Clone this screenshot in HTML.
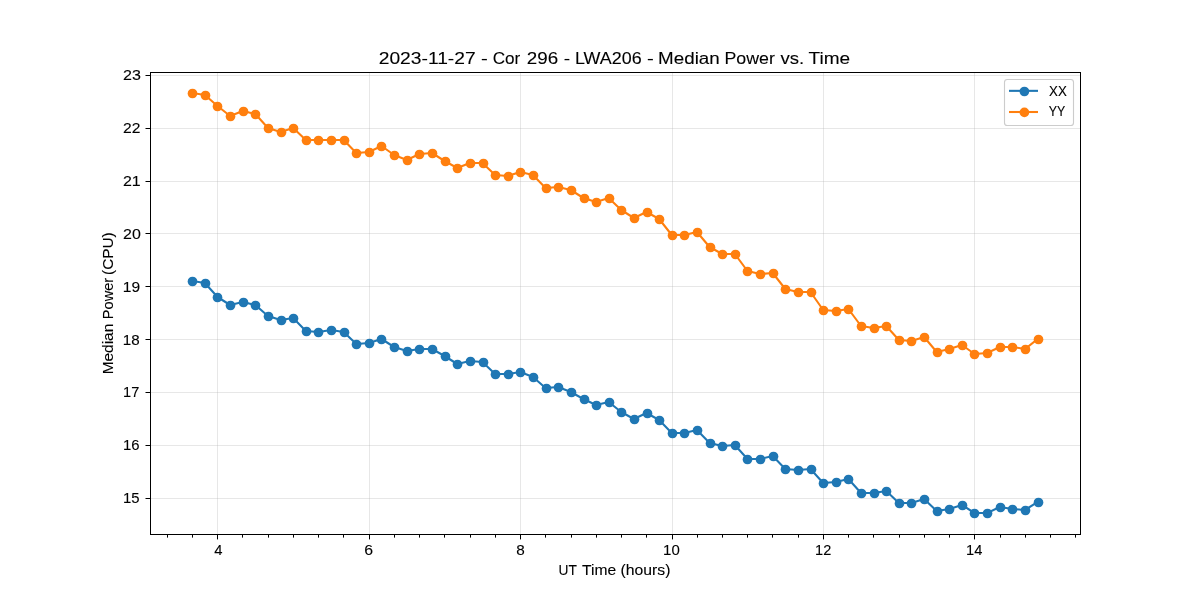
<!DOCTYPE html>
<html><head><meta charset="utf-8"><title>Median Power vs. Time</title>
<style>
html,body{margin:0;padding:0;background:#fff;}
body{width:1200px;height:600px;overflow:hidden;}
svg{display:block;will-change:transform;}
text{font-family:"Liberation Sans",sans-serif;fill:#000;stroke:#000;stroke-width:0.1px;}
</style></head><body>
<svg width="1200" height="600" viewBox="0 0 1200 600">
<rect x="0" y="0" width="1200" height="600" fill="#ffffff"/>

<g stroke="#b0b0b0" stroke-opacity="0.3" stroke-width="1" shape-rendering="crispEdges">
<line x1="217.5" y1="73" x2="217.5" y2="534"/>
<line x1="369.5" y1="73" x2="369.5" y2="534"/>
<line x1="520.5" y1="73" x2="520.5" y2="534"/>
<line x1="672.5" y1="73" x2="672.5" y2="534"/>
<line x1="823.5" y1="73" x2="823.5" y2="534"/>
<line x1="974.5" y1="73" x2="974.5" y2="534"/>
<line x1="151" y1="75.5" x2="1080" y2="75.5"/>
<line x1="151" y1="128.5" x2="1080" y2="128.5"/>
<line x1="151" y1="181.5" x2="1080" y2="181.5"/>
<line x1="151" y1="233.5" x2="1080" y2="233.5"/>
<line x1="151" y1="286.5" x2="1080" y2="286.5"/>
<line x1="151" y1="339.5" x2="1080" y2="339.5"/>
<line x1="151" y1="392.5" x2="1080" y2="392.5"/>
<line x1="151" y1="445.5" x2="1080" y2="445.5"/>
<line x1="151" y1="498.5" x2="1080" y2="498.5"/>
</g>
<polyline points="192.27,281.00 204.89,283.00 217.51,297.00 230.12,305.00 242.74,302.00 255.36,305.00 267.98,316.00 280.60,320.00 293.21,318.00 305.83,331.00 318.45,332.00 331.07,330.00 343.69,332.00 356.30,344.00 368.92,343.00 381.54,339.00 394.16,347.00 406.78,351.00 419.39,349.00 432.01,349.00 444.63,356.00 457.25,364.00 469.87,361.00 482.48,362.00 495.10,374.00 507.72,374.00 520.34,372.00 532.96,377.00 545.57,388.00 558.19,387.00 570.81,392.00 583.43,399.00 596.05,405.00 608.66,402.00 621.28,412.00 633.90,419.00 646.52,413.00 659.14,420.00 671.75,433.00 684.37,433.00 696.99,430.00 709.61,443.00 722.23,446.00 734.84,445.00 747.46,459.00 760.08,459.00 772.70,456.00 785.32,469.00 797.93,470.00 810.55,469.00 823.17,483.00 835.79,482.00 848.41,479.00 861.02,493.00 873.64,493.00 886.26,491.00 898.88,503.00 911.50,503.00 924.11,499.00 936.73,511.00 949.35,509.00 961.97,505.00 974.59,513.00 987.20,513.00 999.82,507.00 1012.44,509.00 1025.06,510.00 1037.68,502.00" fill="none" stroke="#1f77b4" stroke-width="2.08" stroke-linejoin="round" stroke-linecap="square"/>
<g fill="#1f77b4">
<circle cx="192.5" cy="281.5" r="4.85"/>
<circle cx="205.5" cy="283.5" r="4.85"/>
<circle cx="217.5" cy="297.5" r="4.85"/>
<circle cx="230.5" cy="305.5" r="4.85"/>
<circle cx="243.5" cy="302.5" r="4.85"/>
<circle cx="255.5" cy="305.5" r="4.85"/>
<circle cx="268.5" cy="316.5" r="4.85"/>
<circle cx="281.5" cy="320.5" r="4.85"/>
<circle cx="293.5" cy="318.5" r="4.85"/>
<circle cx="306.5" cy="331.5" r="4.85"/>
<circle cx="318.5" cy="332.5" r="4.85"/>
<circle cx="331.5" cy="330.5" r="4.85"/>
<circle cx="344.5" cy="332.5" r="4.85"/>
<circle cx="356.5" cy="344.5" r="4.85"/>
<circle cx="369.5" cy="343.5" r="4.85"/>
<circle cx="381.5" cy="339.5" r="4.85"/>
<circle cx="394.5" cy="347.5" r="4.85"/>
<circle cx="407.5" cy="351.5" r="4.85"/>
<circle cx="419.5" cy="349.5" r="4.85"/>
<circle cx="432.5" cy="349.5" r="4.85"/>
<circle cx="445.5" cy="356.5" r="4.85"/>
<circle cx="457.5" cy="364.5" r="4.85"/>
<circle cx="470.5" cy="361.5" r="4.85"/>
<circle cx="483.5" cy="362.5" r="4.85"/>
<circle cx="495.5" cy="374.5" r="4.85"/>
<circle cx="508.5" cy="374.5" r="4.85"/>
<circle cx="520.5" cy="372.5" r="4.85"/>
<circle cx="533.5" cy="377.5" r="4.85"/>
<circle cx="546.5" cy="388.5" r="4.85"/>
<circle cx="558.5" cy="387.5" r="4.85"/>
<circle cx="571.5" cy="392.5" r="4.85"/>
<circle cx="584.5" cy="399.5" r="4.85"/>
<circle cx="596.5" cy="405.5" r="4.85"/>
<circle cx="609.5" cy="402.5" r="4.85"/>
<circle cx="621.5" cy="412.5" r="4.85"/>
<circle cx="634.5" cy="419.5" r="4.85"/>
<circle cx="647.5" cy="413.5" r="4.85"/>
<circle cx="659.5" cy="420.5" r="4.85"/>
<circle cx="672.5" cy="433.5" r="4.85"/>
<circle cx="684.5" cy="433.5" r="4.85"/>
<circle cx="697.5" cy="430.5" r="4.85"/>
<circle cx="710.5" cy="443.5" r="4.85"/>
<circle cx="722.5" cy="446.5" r="4.85"/>
<circle cx="735.5" cy="445.5" r="4.85"/>
<circle cx="747.5" cy="459.5" r="4.85"/>
<circle cx="760.5" cy="459.5" r="4.85"/>
<circle cx="773.5" cy="456.5" r="4.85"/>
<circle cx="785.5" cy="469.5" r="4.85"/>
<circle cx="798.5" cy="470.5" r="4.85"/>
<circle cx="811.5" cy="469.5" r="4.85"/>
<circle cx="823.5" cy="483.5" r="4.85"/>
<circle cx="836.5" cy="482.5" r="4.85"/>
<circle cx="848.5" cy="479.5" r="4.85"/>
<circle cx="861.5" cy="493.5" r="4.85"/>
<circle cx="874.5" cy="493.5" r="4.85"/>
<circle cx="886.5" cy="491.5" r="4.85"/>
<circle cx="899.5" cy="503.5" r="4.85"/>
<circle cx="911.5" cy="503.5" r="4.85"/>
<circle cx="924.5" cy="499.5" r="4.85"/>
<circle cx="937.5" cy="511.5" r="4.85"/>
<circle cx="949.5" cy="509.5" r="4.85"/>
<circle cx="962.5" cy="505.5" r="4.85"/>
<circle cx="974.5" cy="513.5" r="4.85"/>
<circle cx="987.5" cy="513.5" r="4.85"/>
<circle cx="1000.5" cy="507.5" r="4.85"/>
<circle cx="1012.5" cy="509.5" r="4.85"/>
<circle cx="1025.5" cy="510.5" r="4.85"/>
<circle cx="1038.5" cy="502.5" r="4.85"/>
</g>
<polyline points="192.27,93.00 204.89,95.00 217.51,106.00 230.12,116.00 242.74,111.00 255.36,114.00 267.98,128.00 280.60,132.00 293.21,128.00 305.83,140.00 318.45,140.00 331.07,140.00 343.69,140.00 356.30,153.00 368.92,152.00 381.54,146.00 394.16,155.00 406.78,160.00 419.39,154.00 432.01,153.00 444.63,161.00 457.25,168.00 469.87,163.00 482.48,163.00 495.10,175.00 507.72,176.00 520.34,172.00 532.96,175.00 545.57,188.00 558.19,187.00 570.81,190.00 583.43,198.00 596.05,202.00 608.66,198.00 621.28,210.00 633.90,218.00 646.52,212.00 659.14,219.00 671.75,235.00 684.37,235.00 696.99,232.00 709.61,247.00 722.23,254.00 734.84,254.00 747.46,271.00 760.08,274.00 772.70,273.00 785.32,289.00 797.93,292.00 810.55,292.00 823.17,310.00 835.79,311.00 848.41,309.00 861.02,326.00 873.64,328.00 886.26,326.00 898.88,340.00 911.50,341.00 924.11,337.00 936.73,352.00 949.35,349.00 961.97,345.00 974.59,354.00 987.20,353.00 999.82,347.00 1012.44,347.00 1025.06,349.00 1037.68,339.00" fill="none" stroke="#ff7f0e" stroke-width="2.08" stroke-linejoin="round" stroke-linecap="square"/>
<g fill="#ff7f0e">
<circle cx="192.5" cy="93.5" r="4.85"/>
<circle cx="205.5" cy="95.5" r="4.85"/>
<circle cx="217.5" cy="106.5" r="4.85"/>
<circle cx="230.5" cy="116.5" r="4.85"/>
<circle cx="243.5" cy="111.5" r="4.85"/>
<circle cx="255.5" cy="114.5" r="4.85"/>
<circle cx="268.5" cy="128.5" r="4.85"/>
<circle cx="281.5" cy="132.5" r="4.85"/>
<circle cx="293.5" cy="128.5" r="4.85"/>
<circle cx="306.5" cy="140.5" r="4.85"/>
<circle cx="318.5" cy="140.5" r="4.85"/>
<circle cx="331.5" cy="140.5" r="4.85"/>
<circle cx="344.5" cy="140.5" r="4.85"/>
<circle cx="356.5" cy="153.5" r="4.85"/>
<circle cx="369.5" cy="152.5" r="4.85"/>
<circle cx="381.5" cy="146.5" r="4.85"/>
<circle cx="394.5" cy="155.5" r="4.85"/>
<circle cx="407.5" cy="160.5" r="4.85"/>
<circle cx="419.5" cy="154.5" r="4.85"/>
<circle cx="432.5" cy="153.5" r="4.85"/>
<circle cx="445.5" cy="161.5" r="4.85"/>
<circle cx="457.5" cy="168.5" r="4.85"/>
<circle cx="470.5" cy="163.5" r="4.85"/>
<circle cx="483.5" cy="163.5" r="4.85"/>
<circle cx="495.5" cy="175.5" r="4.85"/>
<circle cx="508.5" cy="176.5" r="4.85"/>
<circle cx="520.5" cy="172.5" r="4.85"/>
<circle cx="533.5" cy="175.5" r="4.85"/>
<circle cx="546.5" cy="188.5" r="4.85"/>
<circle cx="558.5" cy="187.5" r="4.85"/>
<circle cx="571.5" cy="190.5" r="4.85"/>
<circle cx="584.5" cy="198.5" r="4.85"/>
<circle cx="596.5" cy="202.5" r="4.85"/>
<circle cx="609.5" cy="198.5" r="4.85"/>
<circle cx="621.5" cy="210.5" r="4.85"/>
<circle cx="634.5" cy="218.5" r="4.85"/>
<circle cx="647.5" cy="212.5" r="4.85"/>
<circle cx="659.5" cy="219.5" r="4.85"/>
<circle cx="672.5" cy="235.5" r="4.85"/>
<circle cx="684.5" cy="235.5" r="4.85"/>
<circle cx="697.5" cy="232.5" r="4.85"/>
<circle cx="710.5" cy="247.5" r="4.85"/>
<circle cx="722.5" cy="254.5" r="4.85"/>
<circle cx="735.5" cy="254.5" r="4.85"/>
<circle cx="747.5" cy="271.5" r="4.85"/>
<circle cx="760.5" cy="274.5" r="4.85"/>
<circle cx="773.5" cy="273.5" r="4.85"/>
<circle cx="785.5" cy="289.5" r="4.85"/>
<circle cx="798.5" cy="292.5" r="4.85"/>
<circle cx="811.5" cy="292.5" r="4.85"/>
<circle cx="823.5" cy="310.5" r="4.85"/>
<circle cx="836.5" cy="311.5" r="4.85"/>
<circle cx="848.5" cy="309.5" r="4.85"/>
<circle cx="861.5" cy="326.5" r="4.85"/>
<circle cx="874.5" cy="328.5" r="4.85"/>
<circle cx="886.5" cy="326.5" r="4.85"/>
<circle cx="899.5" cy="340.5" r="4.85"/>
<circle cx="911.5" cy="341.5" r="4.85"/>
<circle cx="924.5" cy="337.5" r="4.85"/>
<circle cx="937.5" cy="352.5" r="4.85"/>
<circle cx="949.5" cy="349.5" r="4.85"/>
<circle cx="962.5" cy="345.5" r="4.85"/>
<circle cx="974.5" cy="354.5" r="4.85"/>
<circle cx="987.5" cy="353.5" r="4.85"/>
<circle cx="1000.5" cy="347.5" r="4.85"/>
<circle cx="1012.5" cy="347.5" r="4.85"/>
<circle cx="1025.5" cy="349.5" r="4.85"/>
<circle cx="1038.5" cy="339.5" r="4.85"/>
</g>
<rect x="150.5" y="72.5" width="930" height="462" fill="none" stroke="#000" stroke-width="1" shape-rendering="crispEdges"/>
<g fill="#000">
<rect x="217" y="535" width="1" height="4.4"/>
<rect x="369" y="535" width="1" height="4.4"/>
<rect x="520" y="535" width="1" height="4.4"/>
<rect x="672" y="535" width="1" height="4.4"/>
<rect x="823" y="535" width="1" height="4.4"/>
<rect x="974" y="535" width="1" height="4.4"/>
<rect x="167" y="535" width="1" height="2.6"/>
<rect x="192" y="535" width="1" height="2.6"/>
<rect x="242" y="535" width="1" height="2.6"/>
<rect x="268" y="535" width="1" height="2.6"/>
<rect x="293" y="535" width="1" height="2.6"/>
<rect x="318" y="535" width="1" height="2.6"/>
<rect x="343" y="535" width="1" height="2.6"/>
<rect x="394" y="535" width="1" height="2.6"/>
<rect x="419" y="535" width="1" height="2.6"/>
<rect x="444" y="535" width="1" height="2.6"/>
<rect x="470" y="535" width="1" height="2.6"/>
<rect x="495" y="535" width="1" height="2.6"/>
<rect x="545" y="535" width="1" height="2.6"/>
<rect x="571" y="535" width="1" height="2.6"/>
<rect x="596" y="535" width="1" height="2.6"/>
<rect x="621" y="535" width="1" height="2.6"/>
<rect x="646" y="535" width="1" height="2.6"/>
<rect x="697" y="535" width="1" height="2.6"/>
<rect x="722" y="535" width="1" height="2.6"/>
<rect x="747" y="535" width="1" height="2.6"/>
<rect x="772" y="535" width="1" height="2.6"/>
<rect x="798" y="535" width="1" height="2.6"/>
<rect x="848" y="535" width="1" height="2.6"/>
<rect x="873" y="535" width="1" height="2.6"/>
<rect x="899" y="535" width="1" height="2.6"/>
<rect x="924" y="535" width="1" height="2.6"/>
<rect x="949" y="535" width="1" height="2.6"/>
<rect x="1000" y="535" width="1" height="2.6"/>
<rect x="1025" y="535" width="1" height="2.6"/>
<rect x="1050" y="535" width="1" height="2.6"/>
<rect x="1075" y="535" width="1" height="2.6"/>
<rect x="145.5" y="75.0" width="4.5" height="1"/>
<rect x="145.5" y="128.0" width="4.5" height="1"/>
<rect x="145.5" y="181.0" width="4.5" height="1"/>
<rect x="145.5" y="233.0" width="4.5" height="1"/>
<rect x="145.5" y="286.0" width="4.5" height="1"/>
<rect x="145.5" y="339.0" width="4.5" height="1"/>
<rect x="145.5" y="392.0" width="4.5" height="1"/>
<rect x="145.5" y="445.0" width="4.5" height="1"/>
<rect x="145.5" y="498.0" width="4.5" height="1"/>
</g>
<text transform="translate(214.23,555) scale(1.0496,1)" font-size="14.1">4</text>
<text transform="translate(364.21,555) scale(1.1255,1)" font-size="14.1">6</text>
<text transform="translate(516.31,555) scale(1.0865,1)" font-size="14.1">8</text>
<text transform="translate(663.08,555) scale(1.0638,1)" font-size="14.1">10</text>
<text transform="translate(815.11,555) scale(1.0296,1)" font-size="14.1">12</text>
<text transform="translate(966.10,555) scale(1.0393,1)" font-size="14.1">14</text>
<text transform="translate(123.00,80) scale(1.1403,1)" font-size="14.1">23</text>
<text transform="translate(123.02,133) scale(1.1095,1)" font-size="14.1">22</text>
<text transform="translate(123.00,186) scale(1.1320,1)" font-size="14.1">21</text>
<text transform="translate(123.00,239) scale(1.1348,1)" font-size="14.1">20</text>
<text transform="translate(122.83,292) scale(1.1032,1)" font-size="14.1">19</text>
<text transform="translate(122.86,345) scale(1.0763,1)" font-size="14.1">18</text>
<text transform="translate(123.10,397) scale(1.0368,1)" font-size="14.1">17</text>
<text transform="translate(123.08,450) scale(1.0549,1)" font-size="14.1">16</text>
<text transform="translate(123.08,503) scale(1.0549,1)" font-size="14.1">15</text>
<text transform="translate(558.47,574.5) scale(0.9763,1)" font-size="14.1">UT</text>
<text transform="translate(582.11,574.5) scale(1.1066,1)" font-size="14.1">Time</text>
<text transform="translate(620.55,574.5) scale(1.1180,1)" font-size="14.1">(hours)</text>
<text transform="translate(113.0,374.34) rotate(-90) scale(1.0949,1)" font-size="14.1">Median</text>
<text transform="translate(113.0,319.17) rotate(-90) scale(1.0354,1)" font-size="14.1">Power</text>
<text transform="translate(113.0,274.92) rotate(-90) scale(1.0872,1)" font-size="14.1">(CPU)</text>
<text transform="translate(378.74,63.7) scale(1.1379,1)" font-size="16.9">2023-11-27</text>
<text transform="translate(481.08,63.7) scale(1.2076,1)" font-size="16.9">-</text>
<text transform="translate(492.64,63.7) scale(1.0149,1)" font-size="16.9">Cor</text>
<text transform="translate(526.76,63.7) scale(1.1121,1)" font-size="16.9">296</text>
<text transform="translate(563.64,63.7) scale(1.1351,1)" font-size="16.9">-</text>
<text transform="translate(574.97,63.7) scale(1.0602,1)" font-size="16.9">LWA206</text>
<text transform="translate(646.98,63.7) scale(1.2076,1)" font-size="16.9">-</text>
<text transform="translate(658.10,63.7) scale(1.1117,1)" font-size="16.9">Median</text>
<text transform="translate(724.48,63.7) scale(1.0517,1)" font-size="16.9">Power</text>
<text transform="translate(780.51,63.7) scale(1.0982,1)" font-size="16.9">vs.</text>
<text transform="translate(808.52,63.7) scale(1.1275,1)" font-size="16.9">Time</text>
<rect x="1004.5" y="79.5" width="69" height="46" rx="2.8" ry="2.8" fill="#ffffff" fill-opacity="0.8" stroke="#cccccc" stroke-width="1.11"/>
<line x1="1009" y1="90.85" x2="1038" y2="90.85" stroke="#1f77b4" stroke-width="2.08"/>
<circle cx="1024.4" cy="91.5" r="4.85" fill="#1f77b4"/>
<line x1="1009" y1="112.0" x2="1038" y2="112.0" stroke="#ff7f0e" stroke-width="2.08"/>
<circle cx="1024.4" cy="112.4" r="4.85" fill="#ff7f0e"/>
<text transform="translate(1049.07,96) scale(0.9438,1)" font-size="14.1">XX</text>
<text transform="translate(1048.69,115.9) scale(0.8776,1)" font-size="14.1">YY</text>
</svg></body></html>
